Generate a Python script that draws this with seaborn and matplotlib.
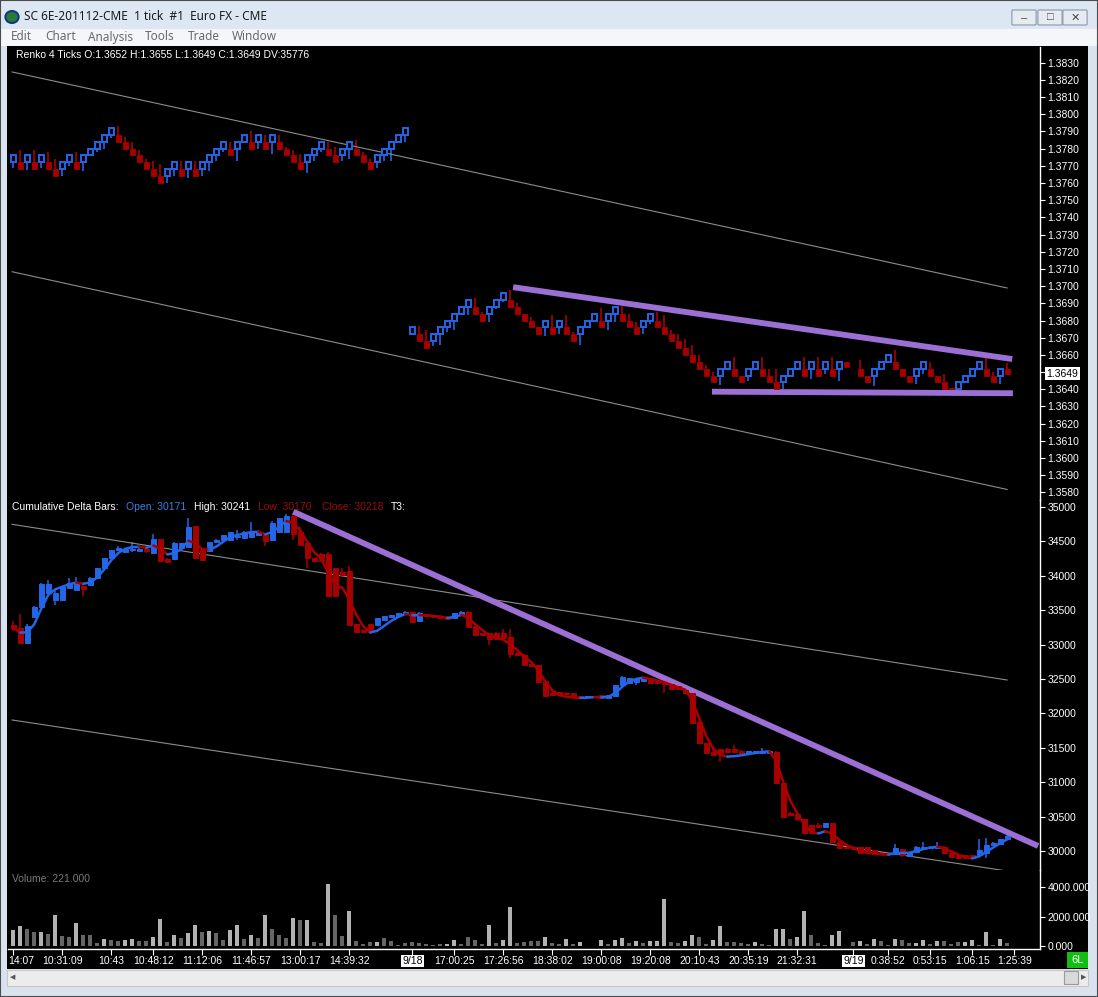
import numpy as np
import pandas as pd
import seaborn as sns
import matplotlib.pyplot as plt
from matplotlib.patches import Rectangle, Circle, FancyBboxPatch
from matplotlib.transforms import blended_transform_factory

sns.set_theme(style="dark", rc={"axes.facecolor": "black", "figure.facecolor": "#d9e3ef"})
plt.rcParams['font.family'] = ['Liberation Sans', 'DejaVu Sans']

# ---- Renko 4 ticks (Euro FX), one brick per bar ----
nan = np.nan
renko_open = [
    1.3772, 1.3772, 1.3772, 1.3772, 1.3772, 1.3772, 1.3768, 1.3768, 1.3772, 1.3772,
    1.3772, 1.3776, 1.3780, 1.3784, 1.3788, 1.3788, 1.3784, 1.3780, 1.3776, 1.3772,
    1.3768, 1.3764, 1.3764, 1.3768, 1.3768, 1.3768, 1.3768, 1.3768, 1.3772, 1.3776,
    1.3780, 1.3780, 1.3780, 1.3784, 1.3784, 1.3784, 1.3784, 1.3784, 1.3784, 1.3780,
    1.3776, 1.3772, 1.3772, 1.3776, 1.3780, 1.3780, 1.3776, 1.3776, 1.3780, 1.3780,
    1.3776, 1.3772, 1.3772, 1.3776, 1.3780, 1.3784, 1.3788,
    1.3672, 1.3672, 1.3668, 1.3668, 1.3672, 1.3676, 1.3680, 1.3684, 1.3688, 1.3688,
    1.3684, 1.3684, 1.3688, 1.3692, 1.3692, 1.3688, 1.3684, 1.3680, 1.3676, 1.3676,
    1.3676, 1.3676, 1.3676, 1.3672, 1.3672, 1.3676, 1.3680, 1.3680, 1.3680, 1.3684,
    1.3684, 1.3680, 1.3676, 1.3676, 1.3680, 1.3680, 1.3676, 1.3672, 1.3668, 1.3664,
    1.3660, 1.3656, 1.3652, 1.3648, 1.3648, 1.3652, 1.3652, 1.3648, 1.3648, 1.3652,
    1.3652, 1.3648, 1.3644, 1.3644, 1.3648, 1.3652, 1.3652, 1.3652, 1.3652, 1.3652,
    1.3652, 1.3652, 1.3656, nan, 1.3652, 1.3648, 1.3648, 1.3652, 1.3656, 1.3656,
    1.3652, 1.3648, 1.3648, 1.3652, 1.3652, 1.3648, 1.3644, 1.3641, 1.3640, 1.3644,
    1.3648, 1.3652, 1.3652, 1.3648, 1.3648, 1.3652,
]
renko_close = [
    1.3776, 1.3768, 1.3776, 1.3768, 1.3776, 1.3768, 1.3764, 1.3772, 1.3776, 1.3768,
    1.3776, 1.3780, 1.3784, 1.3788, 1.3792, 1.3784, 1.3780, 1.3776, 1.3772, 1.3768,
    1.3764, 1.3760, 1.3768, 1.3772, 1.3764, 1.3772, 1.3764, 1.3772, 1.3776, 1.3780,
    1.3784, 1.3776, 1.3784, 1.3788, 1.3780, 1.3788, 1.3780, 1.3788, 1.3780, 1.3776,
    1.3772, 1.3768, 1.3776, 1.3780, 1.3784, 1.3776, 1.3772, 1.3780, 1.3784, 1.3776,
    1.3772, 1.3768, 1.3776, 1.3780, 1.3784, 1.3788, 1.3792,
    1.3676, 1.3668, 1.3664, 1.3672, 1.3676, 1.3680, 1.3684, 1.3688, 1.3692, 1.3684,
    1.3680, 1.3688, 1.3692, 1.3696, 1.3688, 1.3684, 1.3680, 1.3676, 1.3672, 1.3680,
    1.3672, 1.3680, 1.3672, 1.3668, 1.3676, 1.3680, 1.3684, 1.3676, 1.3684, 1.3688,
    1.3680, 1.3676, 1.3672, 1.3680, 1.3684, 1.3676, 1.3672, 1.3668, 1.3664, 1.3660,
    1.3656, 1.3652, 1.3648, 1.3644, 1.3652, 1.3656, 1.3648, 1.3644, 1.3652, 1.3656,
    1.3648, 1.3644, 1.3640, 1.3648, 1.3652, 1.3656, 1.3648, 1.3656, 1.3648, 1.3656,
    1.3648, 1.3656, 1.3653, nan, 1.3648, 1.3644, 1.3652, 1.3656, 1.3660, 1.3652,
    1.3648, 1.3644, 1.3652, 1.3656, 1.3648, 1.3644, 1.3640, 1.3640, 1.3644, 1.3648,
    1.3652, 1.3656, 1.3648, 1.3644, 1.3652, 1.3649,
]
renko_wick = [
    1.3769, 1.3779, 1.37675, 1.3779, 1.3769, 1.3778, 1.3774, 1.3764, 1.3770, 1.3778,
    1.3767, 1.3776, 1.3778, 1.3780, 1.3786, 1.3793, 1.3787, 1.3784, 1.3779, 1.3774,
    1.3773, 1.3771, 1.3760, 1.3764, 1.3773, 1.3763, 1.3773, 1.3764, 1.3767, 1.3773,
    1.3778, 1.3784, 1.3773, 1.3784, 1.3790, 1.3780, 1.3788, 1.3777, 1.3788, 1.3781,
    1.3779, 1.3777, 1.3766, 1.3773, 1.3778, 1.3784, 1.3781, 1.3773, 1.3774, 1.3785,
    1.3778, 1.3774, 1.3769, 1.3773, 1.3773, 1.3784, 1.3784,
    1.3672, 1.3677, 1.36745, 1.3665, 1.3666, 1.36735, 1.36745, 1.3683, 1.36835, 1.3693,
    1.3685, 1.3679, 1.36865, 1.3691, 1.3698, 1.3690, 1.3684, 1.3682, 1.3676, 1.3671,
    1.3683, 1.3672, 1.3683, 1.36735, 1.3666, 1.3676, 1.3680, 1.3687, 1.36745, 1.3679,
    1.36885, 1.3684, 1.3679, 1.3672, 1.3678, 1.3685, 1.3683, 1.36745, 1.3672, 1.3669,
    1.3666, 1.3660, 1.3654, 1.3650, 1.36425, 1.3652, 1.3659, 1.3648, 1.3645, 1.3651,
    1.3659, 1.3652, 1.3652, 1.3640, 1.3648, 1.3651, 1.3659, 1.3646, 1.3659, 1.3649,
    1.3659, 1.3645, 1.3656, nan, 1.3657, 1.3648, 1.3642, 1.3652, 1.3656, 1.3663,
    1.3652, 1.3648, 1.3643, 1.3649, 1.3656, 1.3648, 1.3649, 1.3641, 1.3636, 1.3644,
    1.3648, 1.3652, 1.3658, 1.3650, 1.3643, 1.3655,
]

# ---- Cumulative delta bars ----
delta_open = [
    33285, 33240, 33028, 33406, 33546, 33745, 33648, 33648, 33822, 33800,
    33850, 33866, 33963, 34109, 34254, 34375, 34340, 34375, 34360, 34395,
    34327, 34530, 34250, 34240, 34400, 34423, 34724, 34375, 34360, 34490,
    34525, 34525, 34565, 34555, 34570, 34590, 34600, 34520, 34640, 34640,
    34870, 34640, 34480, 34260, 34320, 34320, 34109, 34050, 34075, 33300,
    33215, 33300, 33285, 33360, 33395, 33410, 33445, 33475, 33350, 33440,
    33430, 33420, 33406, 33382, 33430, 33478, 33270, 33164, 33164, 33173,
    33173, 33106, 32883, 32854, 32718, 32699, 32476, 32291, 32311, 32301,
    32291, 32253, 32245, 32246, 32267, 32219, 32253, 32413, 32447, 32461,
    32476, 32485, 32471, 32461, 32427, 32398, 32340, 32301, 31880, 31565,
    31439, 31477, 31487, 31487, 31458, 31419, 31419, 31424, 31429, 31444,
    30984, 30547, 30537, 30460, 30378, 30378, 30344, 30402, 30136, 30063,
    30063, 30053, 30053, 30015, 29976, 29966, 29957, 30024, 29932, 29981,
    30039, 30039, 30039, 30063, 29976, 29942, 29942, 29942, 29942, 29966,
    30087, 30102, 30171,
]
delta_high = [
    33350, 33445, 33300, 33560, 33900, 33939, 33809, 33840, 33973, 33987,
    33900, 33990, 34115, 34260, 34380, 34435, 34400, 34490, 34400, 34420,
    34603, 34540, 34255, 34495, 34480, 34836, 34730, 34380, 34495, 34540,
    34600, 34640, 34670, 34650, 34787, 34640, 34605, 34790, 34840, 34898,
    34910, 34715, 34485, 34265, 34330, 34340, 34115, 34120, 34140, 33305,
    33220, 33305, 33390, 33415, 33435, 33460, 33485, 33480, 33470, 33445,
    33435, 33425, 33410, 33460, 33493, 33493, 33275, 33175, 33170, 33180,
    33222, 33222, 32890, 32860, 32725, 32705, 32480, 32325, 32315, 32305,
    32295, 32256, 32258, 32260, 32270, 32270, 32418, 32544, 32515, 32505,
    32515, 32490, 32475, 32466, 32432, 32402, 32345, 32305, 31885, 31570,
    31492, 31480, 31492, 31540, 31462, 31452, 31452, 31501, 31462, 31450,
    30990, 30560, 30545, 30465, 30382, 30402, 30405, 30405, 30140, 30066,
    30066, 30056, 30056, 30018, 29980, 29970, 30102, 30028, 29985, 30066,
    30136, 30066, 30136, 30066, 29980, 29946, 29946, 29946, 30170, 30184,
    30125, 30178, 30241,
]
delta_low = [
    33200, 33028, 33028, 33380, 33540, 33745, 33570, 33640, 33810, 33790,
    33710, 33860, 33955, 34100, 34250, 34370, 34340, 34340, 34355, 34330,
    34320, 34210, 34195, 34235, 34395, 34420, 34250, 34210, 34355, 34485,
    34520, 34520, 34520, 34550, 34565, 34585, 34440, 34515, 34635, 34635,
    34520, 34445, 34120, 34205, 34205, 33700, 33700, 34005, 33280, 33180,
    33180, 33175, 33280, 33355, 33390, 33405, 33440, 33325, 33345, 33405,
    33395, 33380, 33360, 33378, 33425, 33255, 33135, 33135, 32994, 33070,
    33085, 32800, 32845, 32700, 32690, 32455, 32245, 32260, 32268, 32272,
    32240, 32235, 32242, 32243, 32215, 32215, 32248, 32408, 32442, 32408,
    32470, 32432, 32442, 32301, 32350, 32350, 32296, 31860, 31560, 31425,
    31390, 31300, 31435, 31435, 31420, 31415, 31415, 31420, 31425, 30980,
    30495, 30515, 30440, 30250, 30252, 30340, 30340, 30130, 30035, 30035,
    30025, 29972, 29972, 29953, 29953, 29948, 29953, 29918, 29928, 29978,
    30035, 30035, 30035, 29972, 29914, 29890, 29890, 29890, 29918, 29894,
    30083, 30098, 30170,
]
delta_close = [
    33240, 33028, 33275, 33551, 33881, 33876, 33745, 33833, 33900, 33900,
    33805, 33963, 34109, 34254, 34375, 34400, 34395, 34395, 34395, 34360,
    34530, 34220, 34205, 34472, 34472, 34714, 34254, 34230, 34490, 34515,
    34595, 34630, 34575, 34635, 34640, 34635, 34500, 34770, 34836, 34874,
    34610, 34450, 34260, 34210, 34210, 33706, 33706, 34010, 33285, 33187,
    33190, 33180, 33382, 33410, 33430, 33455, 33480, 33330, 33465, 33410,
    33400, 33385, 33367, 33454, 33478, 33260, 33140, 33145, 33077, 33077,
    33091, 32863, 32850, 32708, 32695, 32461, 32253, 32267, 32272, 32277,
    32243, 32238, 32255, 32256, 32219, 32267, 32413, 32524, 32510, 32500,
    32510, 32437, 32447, 32422, 32354, 32354, 32301, 31865, 31565, 31429,
    31395, 31419, 31439, 31439, 31424, 31448, 31448, 31458, 31458, 30984,
    30499, 30523, 30460, 30257, 30257, 30344, 30402, 30136, 30039, 30039,
    30029, 29976, 29976, 29957, 29957, 29952, 30039, 29942, 29981, 30063,
    30053, 30063, 30063, 29976, 29918, 29894, 29894, 29894, 30015, 30087,
    30121, 30174, 30218,
]

# ---- Volume per bar (1 = light grey bar) ----
volume = [
    1081, 1357, 1150, 943, 943, 805, 2116, 667, 598, 1564,
    736, 736, 184, 460, 391, 345, 391, 460, 322, 322,
    598, 1840, 253, 736, 529, 874, 1426, 943, 1012, 874,
    391, 1081, 1426, 460, 736, 529, 2116, 1150, 736, 529,
    1909, 1771, 1771, 253, 184, 4186, 2116, 667, 2392, 322,
    115, 253, 253, 529, 322, 46, 184, 253, 184, 115,
    46, 115, 115, 391, 115, 598, 391, 115, 1426, 184,
    391, 2668, 184, 253, 322, 322, 598, 185, 139, 462,
    139, 277, 30, 30, 416, 139, 416, 554, 231, 347,
    231, 323, 347, 3188, 277, 231, 347, 762, 624, 162,
    416, 1386, 277, 277, 185, 139, 277, 139, 46, 1178,
    1178, 485, 624, 2356, 762, 208, 69, 762, 1040, 20,
    277, 347, 139, 485, 347, 69, 485, 416, 208, 208,
    416, 139, 347, 347, 139, 277, 277, 416, 69, 970,
    69, 485, 221,
]
vol_light = [
    1, 1, 0, 0, 1, 0, 1, 0, 0, 1, 0, 0, 0, 1, 0, 0, 1, 1, 0, 0,
    1, 1, 0, 1, 0, 1, 1, 0, 1, 0, 0, 1, 1, 0, 1, 0, 1, 0, 0, 0,
    1, 0, 1, 0, 0, 1, 0, 0, 1, 0, 0, 0, 1, 0, 0, 0, 0, 0, 0, 0,
    0, 0, 1, 1, 0, 0, 0, 0, 1, 0, 1, 1, 0, 0, 0, 0, 1, 0, 0, 1,
    0, 1, 0, 0, 1, 0, 1, 1, 0, 1, 0, 1, 1, 1, 0, 0, 1, 1, 0, 0,
    1, 1, 0, 0, 0, 0, 1, 0, 0, 1, 1, 0, 1, 1, 0, 0, 0, 1, 1, 0,
    0, 1, 0, 1, 0, 0, 1, 0, 0, 1, 1, 0, 1, 0, 0, 0, 1, 1, 0, 1,
    0, 1, 0,
]

# ---- time axis labels (bar index, text) ----
tick_bars = [0, 7, 14, 20, 27, 34, 41, 48, 57, 63, 70, 77, 84, 91, 98, 105, 112,
             120, 125, 131, 137, 143]
tick_labels = ['14:07', '10:31:09', '10:43', '10:48:12', '11:12:06', '11:46:57',
               '13:00:17', '14:39:32', '9/18', '17:00:25', '17:26:56', '18:38:02',
               '19:00:08', '19:20:08', '20:10:43', '20:35:19', '21:32:31', '9/19',
               '0:38:52', '0:53:15', '1:06:15', '1:25:39']

# ---- drawn channel / trend lines (bar index, value) ----
price_chan_x = [-0.2, 142.0]
price_chan_hi = [1.38246, 1.36989]
price_chan_lo = [1.37084, 1.35817]
delta_chan_x = [-0.2, 142.0]
delta_chan_hi = [34749, 32485]
delta_chan_lo = [31905, 29709]
price_trend_hi_x, price_trend_hi_y = [71.4, 142.7], [1.36994, 1.36576]
price_trend_lo_x, price_trend_lo_y = [99.8, 142.8], [1.36386, 1.36377]
delta_trend_x, delta_trend_y = [40.0, 146.4], [34932, 30073]

BLUE = '#2466e8'
RED = '#a80000'
PURPLE = '#9b6fd3'
CHAN = '#8c8c8c'
W, H = 1098, 997


def fx(px):
    return px / W


def fy(py):
    return 1 - py / H


fig = plt.figure(figsize=(W / 100, H / 100), dpi=100)

# window chrome
fig.add_artist(Rectangle((0, fy(29)), 1, 29 / H, transform=fig.transFigure,
                         facecolor='#dde7f3', edgecolor='none', zorder=0))
fig.add_artist(Rectangle((0, fy(46)), 1, 17 / H, transform=fig.transFigure,
                         facecolor='#f4f6f9', edgecolor='none', zorder=0))
fig.add_artist(Rectangle((fx(7), fy(969)), fx(1081), 923 / H, transform=fig.transFigure,
                         facecolor='black', edgecolor='none', zorder=0))
fig.add_artist(Rectangle((fx(7), fy(986)), fx(1081), 16 / H, transform=fig.transFigure,
                         facecolor='#ececec', edgecolor='#c8c8c8', lw=0.8, zorder=0))
fig.add_artist(Rectangle((fx(1064), fy(984)), fx(14), 13 / H, transform=fig.transFigure,
                         facecolor='#dadada', edgecolor='#9a9a9a', lw=0.8, zorder=1))
fig.add_artist(Rectangle((0, 0), 1, 1, transform=fig.transFigure, fill=False,
                         edgecolor='#4a4a4a', lw=1.5, zorder=0))
fig.add_artist(Circle((fx(12), fy(17)), 6 / H, transform=fig.transFigure,
                      facecolor='#2a7a3a', edgecolor='#103a80', lw=1.5))
fig.text(fx(24), fy(17), 'SC 6E-201112-CME  1 tick  #1  Euro FX - CME', fontsize=8.5,
         va='center', color='#1a1a1a', family=['Noto Sans', 'DejaVu Sans'])
for xm, name in zip([11, 45, 88, 145, 188, 232],
                    ['Edit', 'Chart', 'Analysis', 'Tools', 'Trade', 'Window']):
    fig.text(fx(xm), fy(37), name, fontsize=8.5, va='center', color='#6a6a6a',
             family=['Noto Sans', 'DejaVu Sans'])
for bx in [1013, 1039, 1064]:
    fig.add_artist(FancyBboxPatch((fx(bx), fy(24)), fx(22), 13 / H, transform=fig.transFigure,
                                  boxstyle='round,pad=0.001', facecolor='#e6ebf2',
                                  edgecolor='#8a96a8', lw=0.8))
fig.text(fx(1024), fy(18), '\u2013', ha='center', va='center', fontsize=8, color='#444')
fig.text(fx(1050), fy(17.5), '\u25a1', ha='center', va='center', fontsize=8, color='#444')
fig.text(fx(1075), fy(17.5), '\u2715', ha='center', va='center', fontsize=8, color='#444')
fig.text(fx(13), fy(978), '\u25c0', ha='center', va='center', fontsize=5, color='#555')
fig.text(fx(1084), fy(978), '\u25b6', ha='center', va='center', fontsize=5, color='#555')
fig.add_artist(Rectangle((fx(1067), fy(968)), fx(21), 16 / H, transform=fig.transFigure,
                         facecolor='#10c010', edgecolor='none'))
fig.text(fx(1077.5), fy(960), '6L', ha='center', va='center', fontsize=8, color='white')

left, width = fx(8), fx(1032)
ax_p = fig.add_axes([left, fy(500), width, 453 / H])
ax_d = fig.add_axes([left, fy(870), width, 370 / H], sharex=ax_p)
ax_v = fig.add_axes([left, fy(949), width, 79 / H], sharex=ax_p)

idx = np.arange(len(delta_close))

# --- price panel: renko bricks ---
ro, rc, rw = np.array(renko_open), np.array(renko_close), np.array(renko_wick)
ok = ~np.isnan(ro)
up = ok & (rc > ro)
dn = ok & ~(rc > ro)
ax_p.vlines(idx[up], rw[up], ro[up], color=BLUE, lw=1.2, zorder=2)
ax_p.vlines(idx[dn], ro[dn], rw[dn], color=RED, lw=1.2, zorder=2)
ax_p.bar(idx[up], (rc - ro)[up], bottom=ro[up], width=0.7, facecolor='black',
         edgecolor=BLUE, linewidth=1.4, zorder=3)
ax_p.bar(idx[dn], (rc - ro)[dn], bottom=ro[dn], width=0.7, facecolor=RED,
         edgecolor=RED, linewidth=0.6, zorder=3)

sns.lineplot(x=price_chan_x, y=price_chan_hi, color=CHAN, lw=0.8, ax=ax_p)
sns.lineplot(x=price_chan_x, y=price_chan_lo, color=CHAN, lw=0.8, ax=ax_p)
sns.lineplot(x=price_trend_hi_x, y=price_trend_hi_y, color=PURPLE, lw=4.2, ax=ax_p,
             solid_capstyle='butt')
sns.lineplot(x=price_trend_lo_x, y=price_trend_lo_y, color=PURPLE, lw=4.2, ax=ax_p,
             solid_capstyle='butt')

ax_p.set_ylim(1.35756, 1.38391)
ax_p.set_yticks(np.round(np.arange(1.3580, 1.38305, 0.001), 4))
ax_p.yaxis.set_major_formatter(plt.FormatStrFormatter('%.4f'))
ax_p.text(1.006, 1.3649, '1.3649', transform=blended_transform_factory(ax_p.transAxes, ax_p.transData),
          fontsize=7.5, va='center', ha='left', color='black',
          bbox=dict(facecolor='white', edgecolor='none', pad=1.2))

# --- delta panel ---
do, dh, dl, dc = (np.array(a, dtype=float) for a in (delta_open, delta_high, delta_low, delta_close))
dup = dc >= do
for mask, col in [(dup, BLUE), (~dup, RED)]:
    ax_d.vlines(idx[mask], dl[mask], dh[mask], color=col, lw=1.1, zorder=2)
    ax_d.bar(idx[mask], (dc - do)[mask], bottom=do[mask], width=0.75, facecolor=col,
             edgecolor=col, linewidth=0.7, zorder=3)

# T3 of the cumulative delta close, coloured by slope
close_s = pd.Series(dc)
e = close_s
emas = []
for _ in range(6):
    e = e.ewm(span=3, adjust=False).mean()
    emas.append(e)
v = 0.7
t3 = (-v ** 3) * emas[5] + (3 * v ** 2 + 3 * v ** 3) * emas[4] \
    + (-6 * v ** 2 - 3 * v - 3 * v ** 3) * emas[3] + (1 + 3 * v + v ** 3 + 3 * v ** 2) * emas[2]
t3 = t3.values
rising = np.diff(t3) >= 0
start = 0
for i in range(1, len(rising) + 1):
    if i == len(rising) or rising[i] != rising[start]:
        ax_d.plot(idx[start:i + 1], t3[start:i + 1], color=BLUE if rising[start] else RED,
                  lw=1.8, zorder=4)
        start = i

sns.lineplot(x=delta_chan_x, y=delta_chan_hi, color=CHAN, lw=0.8, ax=ax_d)
sns.lineplot(x=delta_chan_x, y=delta_chan_lo, color=CHAN, lw=0.8, ax=ax_d)
sns.lineplot(x=delta_trend_x, y=delta_trend_y, color=PURPLE, lw=4.2, ax=ax_d,
             solid_capstyle='butt')
ax_d.set_ylim(29724, 35102)
ax_d.set_yticks(np.arange(30000, 35001, 500))

# --- volume panel ---
vol_df = pd.DataFrame({'bar': idx, 'volume': volume,
                       'shade': ['light' if s else 'dark' for s in vol_light]})
sns.barplot(data=vol_df, x='bar', y='volume', hue='shade', native_scale=True, dodge=False,
            palette={'light': '#b2b2b2', 'dark': '#666666'}, width=0.58, legend=False,
            errorbar=None, ax=ax_v, zorder=2, linewidth=0, edgecolor='none')
ax_v.set_ylim(-203, 5153)
ax_v.set_yticks([0, 2000, 4000])
ax_v.yaxis.set_major_formatter(plt.FormatStrFormatter('%.3f'))
fig.text(fx(12), fy(879), 'Volume: 221.000', fontsize=7.5, va='center', color='#7a7a7a')

# axes styling
for ax in (ax_p, ax_d, ax_v):
    ax.set_facecolor('none')
    ax.grid(False)
    ax.set_xlabel('')
    ax.set_ylabel('')
    ax.yaxis.tick_right()
    ax.tick_params(axis='y', colors='white', labelcolor='white', labelsize=7.5,
                   length=3.5, width=0.8, pad=2, right=True, left=False)
    for side in ('top', 'left', 'bottom'):
        ax.spines[side].set_visible(False)
    ax.spines['right'].set_visible(True)
    ax.spines['right'].set_color('white')
    ax.spines['right'].set_linewidth(1)

ax_v.spines['bottom'].set_visible(True)
ax_v.spines['bottom'].set_color('white')
ax_v.spines['bottom'].set_linewidth(1)
ax_p.set_xlim(-0.76, 146.67)
ax_v.set_xticks(tick_bars)
ax_v.set_xticklabels([])
ax_v.tick_params(axis='x', colors='white', length=4, width=0.8, bottom=True, direction='out')
for ax in (ax_p, ax_d):
    ax.tick_params(axis='x', bottom=False, labelbottom=False)

# time labels under the axis
tx = blended_transform_factory(ax_v.transData, fig.transFigure)
for b, lab in zip(tick_bars, tick_labels):
    if lab.startswith('9/'):
        ax_v.text(b, fy(961), lab, transform=tx, ha='center', va='center', fontsize=7.5,
                  color='black', bbox=dict(facecolor='white', edgecolor='none', pad=1.0))
    elif b == 0:
        fig.text(fx(8), fy(961), lab, ha='left', va='center', fontsize=7.5, color='white')
    else:
        ax_v.text(b, fy(961), lab, transform=tx, ha='center', va='center', fontsize=7.5,
                  color='white')

# panel headers
fig.text(fx(16), fy(55), 'Renko 4 Ticks O:1.3652 H:1.3655 L:1.3649 C:1.3649 DV:35776',
         fontsize=7.5, va='center', color='white')
for xp, txt, col in [(12, 'Cumulative Delta Bars:', 'white'), (126, 'Open: 30171', '#3b7ee0'),
                     (194, 'High: 30241', 'white'), (258, 'Low: 30170', '#9a0c0c'),
                     (322, 'Close: 30218', '#9a0c0c'), (391, 'T3:', 'white')]:
    fig.text(fx(xp), fy(507), txt, fontsize=7.5, va='center', color=col)

fig.savefig('out.png', dpi=100, facecolor=fig.get_facecolor())
